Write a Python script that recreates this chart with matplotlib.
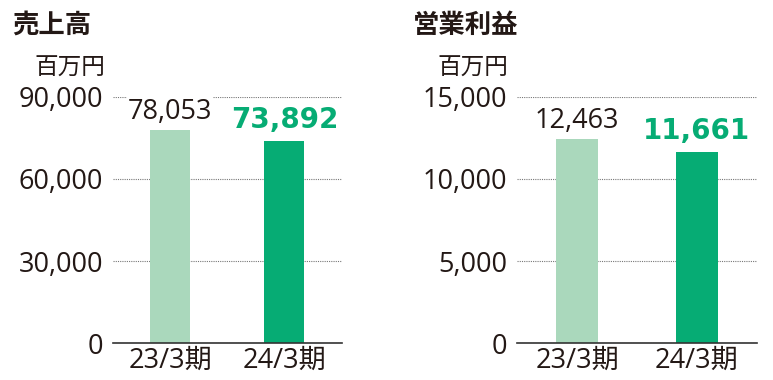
import matplotlib
matplotlib.use('Agg')
import matplotlib.pyplot as plt
from matplotlib.ticker import FuncFormatter

plt.rcParams['font.family'] = ['Open Sans', 'Noto Sans CJK JP', 'DejaVu Sans']

periods = ['23/3期', '24/3期']
sales = [78053, 73892]
profit = [12463, 11661]
sales_ticks = [0, 30000, 60000, 90000]
profit_ticks = [0, 5000, 10000, 15000]
titles = ['売上高', '営業利益']
unit = '百万円'

light = '#aad8bc'
dark = '#06ac74'
text_col = '#231815'
cjk = ['Noto Sans CJK JP', 'DejaVu Sans']

fig = plt.figure(figsize=(7.73, 3.8), dpi=100)
ax1 = fig.add_axes([0.146, 0.097, 0.296, 0.648])
ax2 = fig.add_axes([0.669, 0.097, 0.310, 0.648])


def draw(ax, values, ticks):
    x = range(len(values))
    ax.bar(x, values, width=0.35, color=[light, dark], zorder=2)
    ax.set_xlim(-0.5, 1.5)
    ax.set_ylim(0, ticks[-1])
    ax.set_yticks(ticks)
    ax.yaxis.set_major_formatter(FuncFormatter(lambda v, p: f'{int(v):,}'))
    ax.set_xticks(list(x))
    ax.set_xticklabels(periods)
    ax.tick_params(length=0, labelsize=19.5, colors=text_col, pad=7)
    ax.tick_params(axis='x', pad=2.5)
    for s in ['top', 'right', 'left']:
        ax.spines[s].set_visible(False)
    ax.spines['bottom'].set_color('#333333')
    ax.spines['bottom'].set_linewidth(1.2)
    ax.yaxis.grid(True, linestyle=(0, (1, 1)), color='#777777', linewidth=0.8, zorder=0)
    ax.set_axisbelow(True)
    ax.annotate(f'{values[0]:,}', (0, values[0]), xytext=(0, 7.5), textcoords='offset points',
                ha='center', va='baseline', fontsize=19.5, color=text_col,
                bbox=dict(facecolor='white', edgecolor='none', pad=0.5), zorder=3)
    ax.annotate(f'{values[1]:,}', (1, values[1]), xytext=(0, 9.5), textcoords='offset points',
                ha='center', va='baseline', fontsize=20, fontweight='bold', color=dark,
                family=['DejaVu Sans'],
                bbox=dict(facecolor='white', edgecolor='none', pad=0.5), zorder=3)


draw(ax1, sales, sales_ticks)
draw(ax2, profit, profit_ticks)

fig.text(12 / 773, 1 - 25 / 380, titles[0], fontsize=19, fontweight='bold', color=text_col,
         va='center', family=cjk)
fig.text(413 / 773, 1 - 25 / 380, titles[1], fontsize=19, fontweight='bold', color=text_col,
         va='center', family=cjk)
fig.text(105 / 773, 1 - 68 / 380, unit, fontsize=17, color=text_col, va='center', ha='right', family=cjk)
fig.text(508 / 773, 1 - 68 / 380, unit, fontsize=17, color=text_col, va='center', ha='right', family=cjk)

fig.savefig('out.png', dpi=100)
